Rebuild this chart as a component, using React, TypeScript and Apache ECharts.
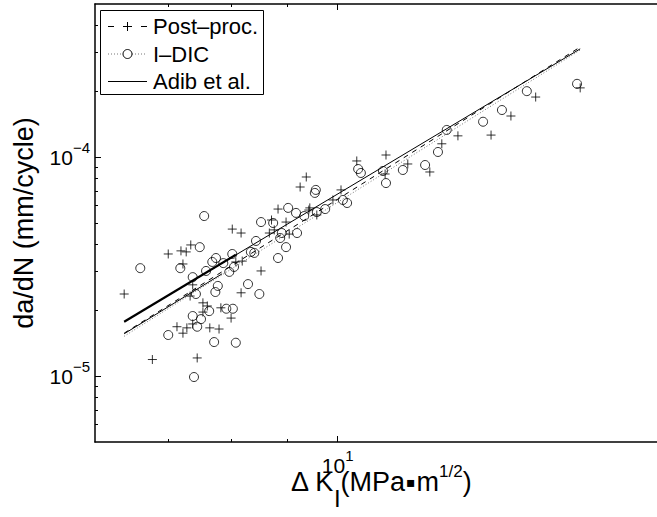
import React, { useEffect, useRef } from 'react';
import * as echarts from 'echarts';

// ΔK_I (MPa·m^1/2) and da/dN (mm/cycle)
const postProcDK = [6.38, 6.77, 7.0, 7.19, 7.27, 7.34, 7.22, 8.01, 8.16, 7.37, 7.33, 7.53, 7.6, 7.53, 7.82, 7.99, 7.37, 7.13, 7.28, 7.22, 7.64, 7.79, 7.44, 9.24, 9.36, 8.82, 9.41, 8.7, 8.97, 8.75, 9.03, 8.66, 8.07, 8.18, 8.51, 8.16, 10.41, 11.07, 11.05, 11.59, 12.14, 10.07, 9.9, 9.57, 9.43, 16.66, 15.17, 14.4, 13.81, 12.88, 12.45];
const postProcRate = [2.37e-5, 1.19e-5, 3.61e-5, 3.73e-5, 3.69e-5, 3.97e-5, 3.25e-5, 4.69e-5, 4.5e-5, 2.61e-5, 2.32e-5, 2.16e-5, 2.09e-5, 1.96e-5, 2.05e-5, 1.84e-5, 1.73e-5, 1.68e-5, 1.66e-5, 1.57e-5, 1.66e-5, 1.64e-5, 1.21e-5, 7.3e-5, 8.11e-5, 5.79e-5, 5.73e-5, 5.16e-5, 5.05e-5, 4.65e-5, 4.45e-5, 4.5e-5, 3.32e-5, 3.35e-5, 3.02e-5, 2.4e-5, 9.6e-5, 1.022e-4, 8.37e-5, 9.3e-5, 8.55e-5, 7.08e-5, 6.37e-5, 5.44e-5, 5.86e-5, 2.07e-4, 1.88e-4, 1.54e-4, 1.26e-4, 1.25e-4, 1.15e-4];

const idicDK = [6.6, 7.55, 7.48, 7.18, 7.74, 7.68, 7.86, 8.01, 7.96, 7.58, 7.37, 7.42, 7.77, 7.73, 7.63, 7.91, 8.02, 7.37, 7.5, 7.44, 7.0, 7.71, 8.07, 7.39, 9.53, 9.55, 9.01, 9.16, 9.32, 9.57, 8.51, 8.73, 8.89, 9.18, 8.86, 8.42, 8.97, 8.33, 8.39, 8.82, 8.04, 8.28, 8.48, 10.44, 10.5, 11.0, 11.07, 11.47, 12.02, 12.35, 10.11, 10.2, 9.74, 16.55, 14.89, 14.13, 13.58, 12.58];
const idicRate = [3.11e-5, 5.38e-5, 3.88e-5, 3.11e-5, 3.46e-5, 3.32e-5, 3.28e-5, 3.61e-5, 2.99e-5, 3.02e-5, 2.83e-5, 2.37e-5, 2.58e-5, 2.42e-5, 1.98e-5, 2.03e-5, 2.03e-5, 1.88e-5, 1.82e-5, 1.68e-5, 1.54e-5, 1.43e-5, 1.42e-5, 9.9e-6, 6.86e-5, 7.08e-5, 5.86e-5, 5.56e-5, 5.38e-5, 5.61e-5, 5.05e-5, 5.0e-5, 4.5e-5, 4.5e-5, 4.27e-5, 4.14e-5, 3.88e-5, 3.69e-5, 3.65e-5, 3.46e-5, 3.15e-5, 2.63e-5, 2.37e-5, 8.82e-5, 8.46e-5, 8.64e-5, 7.61e-5, 8.73e-5, 9.2e-5, 1.055e-4, 6.37e-5, 6.17e-5, 5.79e-5, 2.16e-4, 2.0e-4, 1.64e-4, 1.45e-4, 1.33e-4];

// fitted lines (end points)
const postFitDK = [6.38, 16.66];
const postFitRate = [1.57e-5, 3.18e-4];
const idicFitDK = [6.38, 16.66];
const idicFitRate = [1.52e-5, 3.08e-4];
const adibDK = [6.38, 16.66];
const adibRate = [1.77e-5, 3.12e-4];
const adibRangeDK = [6.38, 8.07];
const adibRangeRate = [1.77e-5, 3.58e-5];
const lowSegDK = [6.38, 7.84];
const lowSegRate = [1.56e-5, 2.93e-5];

// axes
const xRange = [6, 20];
const yRange = [5e-6, 5e-4];
const xMajorTicks = [10];
const xMinorTicks = [7, 8, 9];
const yMajorTicks = [1e-5, 1e-4];
const yMinorTicks = [6e-6, 7e-6, 8e-6, 9e-6, 2e-5, 3e-5, 4e-5, 5e-5, 6e-5, 7e-5, 8e-5, 9e-5, 2e-4, 3e-4, 4e-4];

const legendLabels = ['Post–proc.', 'I–DIC', 'Adib et al.'];

const FONT = 'Liberation Sans, Arial, Helvetica, sans-serif';
const L = Math.log10;

const pts = (xs: number[], ys: number[]) => xs.map((x, i) => [L(x), L(ys[i])]);

export default function App() {
  const ref = useRef<HTMLDivElement>(null);
  useEffect(() => {
    if (!ref.current) return;
    const chart = echarts.init(ref.current, null, { renderer: 'svg' });
    const xmin = L(xRange[0]), xmax = L(xRange[1]);
    const ymin = L(yRange[0]), ymax = L(yRange[1]);
    const axisLineStyle = { color: '#000', width: 1.5 };
    const tickStyle = { color: '#000', width: 1 };
    const supRich = {
      b: { fontSize: 21, lineHeight: 28, verticalAlign: 'bottom', fontFamily: FONT, color: '#000' },
      s: { fontSize: 15, lineHeight: 15, verticalAlign: 'top', fontFamily: FONT, color: '#000' },
    };
    const xBase = (pos: string, major: boolean) => ({
      type: 'value', min: xmin, max: xmax, position: pos, gridIndex: 0,
      axisLine: { show: major, lineStyle: axisLineStyle, onZero: false },
      axisTick: { show: true, inside: true, length: major ? 6 : 3, lineStyle: tickStyle,
        customValues: (major ? xMajorTicks : xMinorTicks).map(L) },
      axisLabel: { show: false },
      splitLine: { show: false },
    });
    const yBase = (pos: string, major: boolean) => ({
      type: 'value', min: ymin, max: ymax, position: pos, gridIndex: 0,
      axisLine: { show: major, lineStyle: axisLineStyle, onZero: false },
      axisTick: { show: true, inside: true, length: major ? 6 : 3, lineStyle: tickStyle,
        customValues: (major ? yMajorTicks : yMinorTicks).map(L) },
      axisLabel: { show: false },
      splitLine: { show: false },
    });

    const xMain: any = xBase('bottom', true);
    xMain.axisLabel = {
      show: true, customValues: xMajorTicks.map(L), margin: 6,
      formatter: (v: number) => `{b|10}{s|${Math.round(v)}}`,
      rich: supRich,
    };
    xMain.name = '{n|Δ K}{sub|I}{n|(MPa}{dot|▪}{n|m}{sup|1/2}{n|)}';
    xMain.nameLocation = 'middle';
    xMain.nameGap = 12;
    xMain.nameMoveOverlap = false;
    xMain.nameTextStyle = {
      verticalAlign: 'top',
      rich: {
        n: { fontSize: 27, lineHeight: 56, verticalAlign: 'middle', fontFamily: FONT, color: '#000' },
        sub: { fontSize: 24, lineHeight: 24, verticalAlign: 'bottom', fontFamily: FONT, color: '#000' },
        sup: { fontSize: 17, lineHeight: 24, verticalAlign: 'top', fontFamily: FONT, color: '#000', padding: [9, 0, 0, 0] },
        dot: { fontSize: 14, lineHeight: 56, verticalAlign: 'middle', fontFamily: 'DejaVu Sans', color: '#000', padding: [0, 1, 0, 1] },
      },
    };

    const yMain: any = yBase('left', true);
    yMain.axisLabel = {
      show: true, customValues: yMajorTicks.map(L), margin: 5, padding: [0, 0, 6, 0],
      formatter: (v: number) => `{b|10}{s|−${Math.abs(Math.round(v))}}`,
      rich: supRich,
    };
    yMain.name = 'da/dN (mm/cycle)';
    yMain.nameLocation = 'middle';
    yMain.nameGap = 58;
    yMain.nameMoveOverlap = false;
    yMain.nameTextStyle = { fontSize: 27, fontFamily: FONT, color: '#000' };

    const lineSeries = (name: string, xs: number[], ys: number[], type: any, width: number, color: string) => ({
      name, type: 'line', data: pts(xs, ys), showSymbol: false, symbol: 'none',
      lineStyle: { color, width, type }, silent: true, z: 3,
    });

    const lx0 = 108, lx1 = 147, lcx = 127.5;
    const rows = [26.5, 54, 81.5];
    const graphic: any[] = [
      { type: 'rect', z: 100, shape: { x: 100.5, y: 10.5, width: 163, height: 84 }, style: { fill: '#fff', stroke: '#000', lineWidth: 1 } },
      { type: 'line', z: 101, shape: { x1: lx0, y1: rows[0], x2: lx0 + 6, y2: rows[0] }, style: { stroke: '#000', lineWidth: 1 } },
      { type: 'line', z: 101, shape: { x1: lx1 - 6, y1: rows[0], x2: lx1, y2: rows[0] }, style: { stroke: '#000', lineWidth: 1 } },
      { type: 'line', z: 101, shape: { x1: lcx - 4.5, y1: rows[0], x2: lcx + 4.5, y2: rows[0] }, style: { stroke: '#000', lineWidth: 1 } },
      { type: 'line', z: 101, shape: { x1: lcx, y1: rows[0] - 4.5, x2: lcx, y2: rows[0] + 4.5 }, style: { stroke: '#000', lineWidth: 1 } },
      { type: 'line', z: 101, shape: { x1: lx0, y1: rows[1], x2: lx1, y2: rows[1] }, style: { stroke: '#777', lineWidth: 1, lineDash: [1, 2] } },
      { type: 'circle', z: 102, shape: { cx: lcx, cy: rows[1], r: 4.5 }, style: { fill: '#fff', stroke: '#000', lineWidth: 1 } },
      { type: 'line', z: 101, shape: { x1: lx0, y1: rows[2], x2: lx1, y2: rows[2] }, style: { stroke: '#000', lineWidth: 1 } },
      ...legendLabels.map((t, i) => ({
        type: 'text', z: 101, x: 153, y: rows[i],
        style: { text: t, fontSize: 22, fontFamily: FONT, fill: '#000', verticalAlign: 'middle', align: 'left' },
      })),
    ];

    chart.setOption({
      animation: false,
      backgroundColor: '#fff',
      grid: { left: 95, top: 4, width: 572, height: 438, containLabel: false, outerBoundsMode: 'none' },
      xAxis: [xMain, xBase('bottom', false), xBase('top', true), xBase('top', false)],
      yAxis: [yMain, yBase('left', false), yBase('right', true), yBase('right', false)],
      graphic,
      series: [
        lineSeries('Adib range', adibRangeDK, adibRangeRate, 'solid', 2.2, '#000'),
        lineSeries('Adib et al.', adibDK, adibRate, 'solid', 1, '#000'),
        lineSeries('low segment', lowSegDK, lowSegRate, 'solid', 1, '#000'),
        lineSeries('Post–proc. fit', postFitDK, postFitRate, [5, 5], 1, '#000'),
        lineSeries('I–DIC fit', idicFitDK, idicFitRate, [1, 2], 1, '#777'),
        {
          name: 'Post–proc.', type: 'scatter', data: pts(postProcDK, postProcRate),
          symbol: 'path://M0,5L10,5M5,0L5,10', symbolSize: 9,
          itemStyle: { color: 'transparent', borderColor: '#000', borderWidth: 1 }, z: 4, silent: true,
        },
        {
          name: 'I–DIC', type: 'scatter', data: pts(idicDK, idicRate),
          symbol: 'circle', symbolSize: 9,
          itemStyle: { color: 'transparent', borderColor: '#000', borderWidth: 1 }, z: 4, silent: true,
        },
      ],
    });
    return () => chart.dispose();
  }, []);
  return (
    <div style={{ position: 'fixed', left: 0, top: 0, width: 657, height: 517, overflow: 'hidden', background: '#fff' }}>
      <div ref={ref} style={{ width: 680, height: 517 }} />
    </div>
  );
}
